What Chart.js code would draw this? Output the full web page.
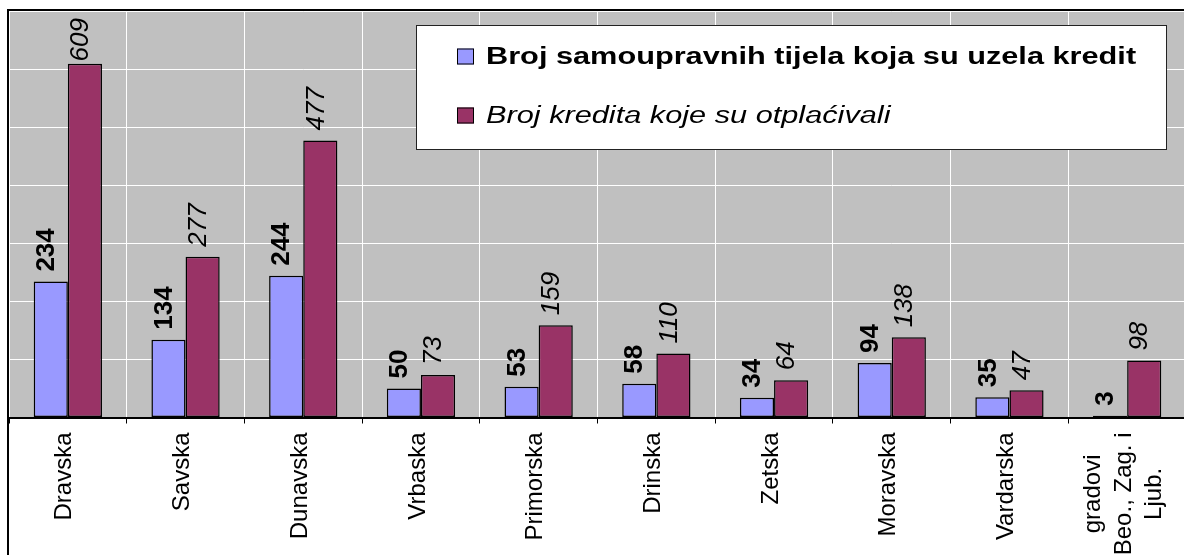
<!DOCTYPE html>
<html>
<head>
<meta charset="utf-8">
<script src="https://cdn.jsdelivr.net/npm/chart.js@4/dist/chart.umd.min.js"></script>
<style>
  html, body { margin: 0; padding: 0; background: #fff; overflow: hidden; }
  #wrap { width: 1192px; height: 555px; }
</style>
</head>
<body>
<div id="wrap"><canvas id="myChart" width="1192" height="555"></canvas></div>
<script>
// banovine + gradovi
var regions = [
  ['Dravska'], ['Savska'], ['Dunavska'], ['Vrbaska'], ['Primorska'],
  ['Drinska'], ['Zetska'], ['Moravska'], ['Vardarska'],
  ['gradovi', 'Beo., Zag. i', 'Ljub.']
];
var seriesNames = [
  'Broj samoupravnih tijela koja su uzela kredit',
  'Broj kredita koje su otplaćivali'
];
var tijela = [234, 134, 244, 50, 53, 58, 34, 94, 35, 3];
var krediti = [609, 277, 477, 73, 159, 110, 64, 138, 47, 98];
var yMax = 700;
var yStep = 100;

var FONT = '"Liberation Sans", Arial, sans-serif';

// siva pozadina plot area
var plotBg = {
  id: 'plotBg',
  beforeDraw: function (chart) {
    var a = chart.chartArea, ctx = chart.ctx;
    ctx.save();
    ctx.fillStyle = '#c0c0c0';
    ctx.fillRect(a.left, a.top, a.right - a.left, a.bottom - a.top);
    ctx.restore();
  }
};

// vrijednosti iznad stupaca, okrenute za 90 stupnjeva
var valueLabels = {
  id: 'valueLabels',
  afterDatasetsDraw: function (chart) {
    var ctx = chart.ctx, top = chart.chartArea.top;
    ctx.save();
    ctx.fillStyle = '#000';
    ctx.textAlign = 'left';
    ctx.textBaseline = 'middle';
    chart.data.datasets.forEach(function (ds, di) {
      ctx.font = (di === 0 ? 'bold ' : 'italic ') + '26px ' + FONT;
      chart.getDatasetMeta(di).data.forEach(function (bar, i) {
        var txt = String(ds.data[i]);
        var w = ctx.measureText(txt).width;
        var y = bar.y - 10;
        if (y - w < top + 7) y = top + 7 + w;
        ctx.save();
        ctx.translate(bar.x - 4, y);
        ctx.rotate(-Math.PI / 2);
        ctx.fillText(txt, 0, 0);
        ctx.restore();
      });
    });
    ctx.restore();
  }
};

// nazivi kategorija ispod osi, okomito, vise redova centrirano
var catLabels = {
  id: 'catLabels',
  afterDraw: function (chart) {
    var ctx = chart.ctx, xs = chart.scales.x;
    var lineH = 30.5;
    ctx.save();
    ctx.fillStyle = '#000';
    ctx.font = '24px ' + FONT;
    ctx.textAlign = 'center';
    ctx.textBaseline = 'middle';
    regions.forEach(function (lines, i) {
      var cx = xs.getPixelForValue(i);
      var maxW = 0;
      lines.forEach(function (l) { maxW = Math.max(maxW, ctx.measureText(l).width); });
      ctx.save();
      ctx.translate(cx - 3, xs.bottom + 9);
      ctx.rotate(-Math.PI / 2);
      lines.forEach(function (l, j) {
        ctx.fillText(l, -maxW / 2, (j - (lines.length - 1) / 2) * lineH);
      });
      ctx.restore();
    });
    ctx.restore();
  }
};

// okvir lijevo i gore + legenda u bijelom okviru
var frameLegend = {
  id: 'frameLegend',
  afterDraw: function (chart) {
    var ctx = chart.ctx, a = chart.chartArea;
    ctx.save();
    ctx.strokeStyle = '#000';
    ctx.lineWidth = 2;
    ctx.beginPath();
    ctx.moveTo(a.left - 1, chart.height);
    ctx.lineTo(a.left - 1, a.top - 1);
    ctx.lineTo(chart.width, a.top - 1);
    ctx.stroke();

    // legenda
    ctx.fillStyle = '#fff';
    ctx.fillRect(416, 25, 750, 124);
    ctx.lineWidth = 1;
    ctx.strokeStyle = '#222';
    ctx.strokeRect(416.5, 25.5, 750, 124);

    var rows = [64, 123];
    chart.data.datasets.forEach(function (ds, di) {
      var base = rows[di];
      ctx.fillStyle = ds.backgroundColor;
      ctx.fillRect(457, base - 15.5, 17, 16);
      ctx.strokeStyle = '#000';
      ctx.strokeRect(457.5, base - 15, 16, 15);
      ctx.save();
      ctx.fillStyle = '#000';
      ctx.font = (di === 0 ? 'bold ' : 'italic ') + '23px ' + FONT;
      ctx.textAlign = 'left';
      ctx.textBaseline = 'alphabetic';
      ctx.translate(486, base);
      ctx.scale(1.335, 1);
      ctx.fillText(ds.label, 0, 0);
      ctx.restore();
    });
    ctx.restore();
  }
};

new Chart('myChart', {
  type: 'bar',
  data: {
    labels: regions,
    datasets: [{
      label: seriesNames[0],
      data: tijela,
      backgroundColor: '#9999ff',
      borderColor: '#000',
      borderWidth: 1.5,
      borderSkipped: false
    }, {
      label: seriesNames[1],
      data: krediti,
      backgroundColor: '#993366',
      borderColor: '#000',
      borderWidth: 1.5,
      borderSkipped: false
    }]
  },
  options: {
    responsive: false,
    animation: false,
    events: [],
    datasets: { bar: { categoryPercentage: 0.58, barPercentage: 1 } },
    layout: { padding: { left: 9, top: 11, right: 6, bottom: 131.5 } },
    plugins: { legend: { display: false }, tooltip: { enabled: false } },
    scales: {
      x: {
        grid: { offset: true, color: '#fff', lineWidth: 1, tickColor: '#000', tickLength: 6 },
        border: { color: '#000', width: 2 },
        ticks: { display: false }
      },
      y: {
        min: 0,
        max: yMax,
        ticks: { display: false, stepSize: yStep },
        grid: { color: '#fff', lineWidth: 1, drawTicks: false },
        border: { display: false }
      }
    }
  },
  plugins: [plotBg, valueLabels, catLabels, frameLegend]
});
</script>
</body>
</html>
